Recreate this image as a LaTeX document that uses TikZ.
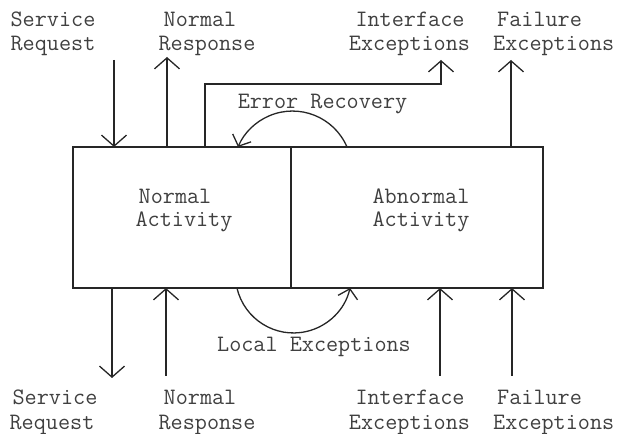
\documentclass[tikz,border=0pt]{standalone}
\usepackage{fontspec}
\usetikzlibrary{arrows.meta}
\begin{document}
\begin{tikzpicture}[x=1pt,y=1pt,
  line/.style={draw=black!85, line width=1.3pt},
  flow/.style={line, -{Straight Barb[length=11pt,width=25pt]}},
  loopflow/.style={line, -{Straight Barb[length=9pt,width=20pt]}},
  lbl/.style={font=\ttfamily\fontsize{23.5}{24}\selectfont, text=black!75, inner sep=0pt, anchor=base},
  lblw/.style={lbl, anchor=base west},
  half/.style={line, minimum height=141pt, inner sep=0pt, outer sep=0pt, anchor=south west}]
\useasboundingbox (0,0) rectangle (619,434);

% the two halves of the component
\node[half, minimum width=218pt] (normal) at (73,146) {};
\node[half, minimum width=252pt] (abnormal) at (291,146) {};
\node[lbl] (na1) at (175,230) {Normal};
\node[lbl] (na2) at (184,207) {Activity};
\node[lbl] (aa1) at (421,230) {Abnormal};
\node[lbl] (aa2) at (421,207) {Activity};

% labels above the component
\node[lbl] (srT1) at (53,407) {Service};
\node[lbl] (srT2) at (53,383) {Request};
\node[lbl] (nrT1) at (200,407) {Normal};
\node[lbl] (nrT2) at (207,383) {Response};
\node[lbl] (ieT1) at (410,407) {Interface};
\node[lbl] (ieT2) at (409.5,383) {Exceptions};
\node[lblw] (feT1) at (497,407) {Failure};
\node[lblw] (feT2) at (493,383) {Exceptions};
\node[lbl] (erL) at (322.5,325) {Error Recovery};

% labels below the component
\node[lbl] (srB1) at (55,29) {Service};
\node[lbl] (srB2) at (52,4) {Request};
\node[lbl] (nrB1) at (200,29) {Normal};
\node[lbl] (nrB2) at (207,4) {Response};
\node[lbl] (ieB1) at (410,29) {Interface};
\node[lbl] (ieB2) at (409.5,4) {Exceptions};
\node[lblw] (feB1) at (497,29) {Failure};
\node[lblw] (feB2) at (493,4) {Exceptions};
\node[lbl] (leL) at (314,82.5) {Local Exceptions};

% upper interface
\coordinate (srIn) at (114,374);
\coordinate (nrOut) at (167,377);
\coordinate (ieBend) at (205,350);
\coordinate (ieOut) at (441,374);
\coordinate (feOut) at (511,374);
\draw[flow] (srIn) -- (srIn |- normal.north);
\draw[flow] (nrOut |- normal.north) -- (nrOut);
\draw[flow] (ieBend |- normal.north) -- (ieBend) -| (ieOut);
\draw[flow] (feOut |- abnormal.north) -- (feOut);

% lower interface
\coordinate (srOut) at (112,56);
\coordinate (nrIn) at (166,58);
\coordinate (ieIn) at (440,58);
\coordinate (feIn) at (512,58);
\draw[flow] (srOut |- normal.south) -- (srOut);
\draw[flow] (nrIn) -- (nrIn |- normal.south);
\draw[flow] (ieIn) -- (ieIn |- abnormal.south);
\draw[flow] (feIn) -- (feIn |- abnormal.south);

% internal transitions between the halves
\coordinate (erStart) at (347,287);
\coordinate (leStart) at (237,146);
\draw[loopflow] (erStart) arc[start angle=23.2, end angle=156.8, radius=59.3];
\draw[loopflow] (leStart) arc[start angle=193, end angle=347, radius=58];
\end{tikzpicture}
\end{document}
